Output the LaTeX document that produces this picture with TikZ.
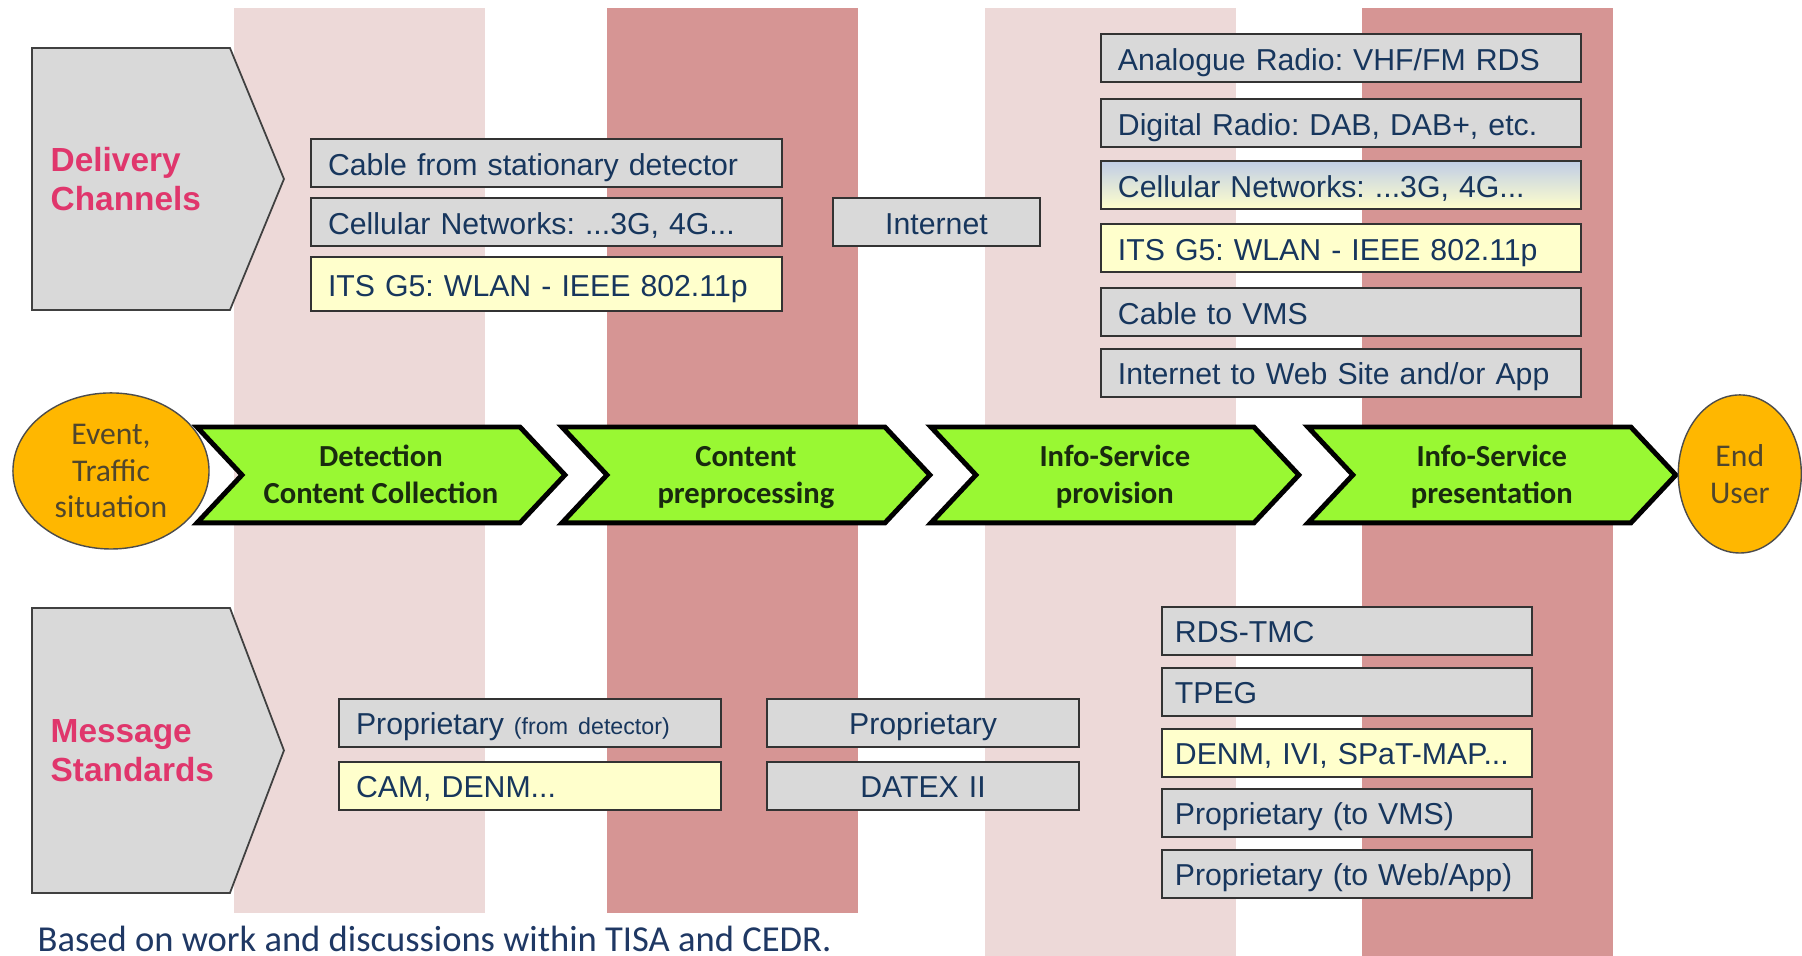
\documentclass[tikz,border=0pt]{standalone}
\usepackage{fontspec}
\setmainfont{Liberation Sans}
\newfontfamily\calib{Carlito}
\usetikzlibrary{shapes.geometric}
\frenchspacing
\definecolor{bandlight}{RGB}{237,217,216}
\definecolor{banddark}{RGB}{214,149,148}
\definecolor{chevgreen}{RGB}{153,248,51}
\definecolor{orb}{RGB}{255,183,0}
\definecolor{boxgray}{RGB}{217,217,217}
\definecolor{boxyellow}{RGB}{255,255,204}
\definecolor{cellblue}{RGB}{192,205,230}
\definecolor{navy}{RGB}{23,54,93}
\definecolor{pinktxt}{RGB}{224,54,108}
\definecolor{chevtxt}{RGB}{25,42,15}
\definecolor{orbtxt}{RGB}{80,70,45}
\definecolor{foot}{RGB}{31,56,100}
\newcommand\tdots{...}
\tikzset{
  chan/.style={draw=black!80, line width=0.6pt, text=navy, anchor=north west,
    font=\fontsize{8.6}{10}\selectfont, inner xsep=0.17cm, inner ysep=0pt,
    text height=8.6pt, text depth=1.8pt,
    minimum height=0.48cm, align=left, text width=#1},
  gry/.style={fill=boxgray},
  yel/.style={fill=boxyellow},
  grad/.style={top color=cellblue, bottom color=boxyellow},
  headline/.style={anchor=west, align=left, text=pinktxt, inner sep=0pt,
    font=\bfseries\fontsize{9.5}{11}\selectfont},
  orbit/.style={ellipse, draw=black!70, fill=orb, text=orbtxt, inner sep=0pt,
    align=center, font=\calib\fontsize{9}{10.5}\selectfont},
  stage/.style={align=center, text=chevtxt,
    font=\calib\bfseries\fontsize{8.7}{10.5}\selectfont}
}
\begin{document}
\begin{tikzpicture}[x=0.01cm, y=-0.01cm]
 \fill[white] (0,0) rectangle (1802,956);
 \foreach \x/\yb/\c in {234/913/bandlight, 607/913/banddark, 985/956/bandlight, 1362/956/banddark}
 {
   \fill[\c] (\x,8) rectangle (\x+251,\yb);
 }

 \foreach \n/\ya/\yb/\wa/\wb in {deliv/48/310/Delivery/Channels, msg/608/893/Message/Standards}
 {
   \filldraw[fill=boxgray, draw=black!75, line width=0.5pt]
   (32,\ya)--(230,\ya)--(284,{(\ya+\yb)/2})--(230,\yb)--(32,\yb)--cycle;
   \node[headline] (\n) at (50,{(\ya+\yb)/2}) {\wa\\\wb};
 }

 \foreach \n/\y/\h/\s/\t in {cable/138/0.48cm/gry/Cable from stationary detector,
   {cellin/197/0.48cm/gry/Cellular Networks: \tdots3G, 4G\tdots},
   itsin/256/0.54cm/yel/ITS G5: WLAN - IEEE 802.11p}
 {
   \node[chan=4.37cm, \s, minimum height=\h] (\n) at (310,\y) {\t};
 }
 \node[chan=1.73cm, gry, align=center] (inet) at (832,197) {Internet};

 \foreach \n/\y/\s/\t in {analog/33/gry/{Analogue Radio: VHF/FM RDS},
   {digital/98/gry/Digital Radio: DAB, DAB+, etc.},
   {cellout/160/grad/Cellular Networks: \tdots3G, 4G\tdots},
   itsout/223/yel/ITS G5: WLAN - IEEE 802.11p,
   vms/287/gry/Cable to VMS,
   web/348/gry/{Internet to Web Site and/or App}}
 {
   \node[chan=4.46cm, \s] (\n) at (1100,\y) {\t};
 }

 \node[chan=3.48cm, gry] (propdet) at (338,698) {Proprietary {\fontsize{6.6}{8}\selectfont(from detector)}};
 \node[chan=3.48cm, yel] (cam) at (338,761) {CAM, DENM...};
 \node[chan=2.78cm, gry, align=center] (prop) at (766,698) {Proprietary};
 \node[chan=2.78cm, gry, align=center] (datex) at (766,761) {DATEX II};

 \foreach \n/\y/\s/\t in {rds/606/gry/RDS-TMC, tpeg/667/gry/TPEG,
   {denm/728/yel/DENM, IVI, SPaT-MAP\tdots},
   propvms/788/gry/Proprietary (to VMS),
   propweb/849/gry/{Proprietary (to Web/App)}}
 {
   \node[chan=3.44cm, \s, inner xsep=0.13cm] (\n) at (1161,\y) {\mbox{\t}};
 }

 \foreach \n/\l/\wa/\wb in {detect/197/Detection/Content Collection, preproc/562/Content/preprocessing,
   provis/931/Info-Service/provision, present/1308/Info-Service/presentation}
 {
   \filldraw[fill=chevgreen, line width=1.4pt, line join=miter]
   (\l,427)--(\l+323,427)--(\l+368,475)--(\l+323,523)--(\l,523)--(\l+45,475)--cycle;
   \node[stage] (\n) at (\l+184,478) {\strut\wa\\\wb\strut};
 }

 \node[orbit, minimum width=1.96cm, minimum height=1.56cm] (event) at (111,471) {Event,\\Traffic\\situation};
 \node[orbit, minimum width=1.23cm, minimum height=1.58cm] (user) at (1740,474) {End\\User};

 \node[anchor=base west, inner sep=0pt, text=foot, font=\calib\fontsize{10.4}{12}\selectfont]
 (note) at (37,952) {Based on work and discussions within TISA and CEDR.};
\end{tikzpicture}
\end{document}
